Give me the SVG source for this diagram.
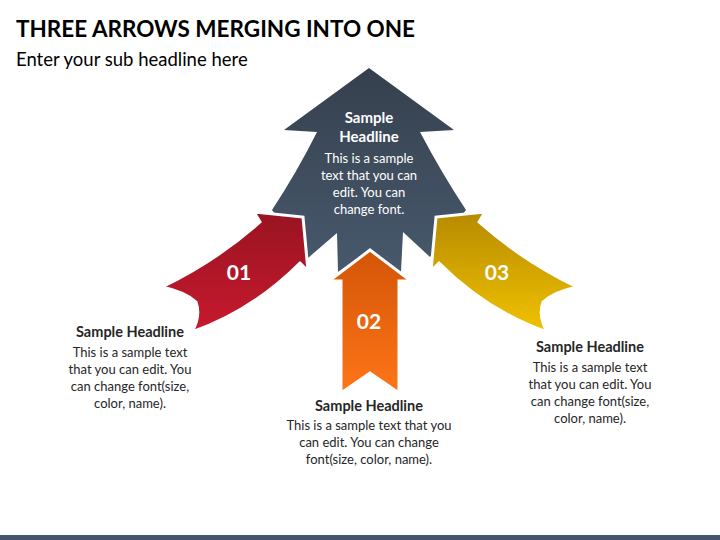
<svg xmlns="http://www.w3.org/2000/svg" width="720" height="540" viewBox="0 0 720 540">
  <defs>
    <linearGradient id="gDark" x1="0" y1="0" x2="0" y2="1">
      <stop offset="0" stop-color="#35404D"/>
      <stop offset="1" stop-color="#48596D"/>
    </linearGradient>
    <linearGradient id="gRed" x1="0" y1="0" x2="0" y2="1">
      <stop offset="0" stop-color="#981421"/>
      <stop offset="1" stop-color="#C8192E"/>
    </linearGradient>
    <linearGradient id="gOrange" x1="0" y1="0" x2="0" y2="1">
      <stop offset="0" stop-color="#D25507"/>
      <stop offset="1" stop-color="#FF7518"/>
    </linearGradient>
    <linearGradient id="gYellow" x1="0" y1="0" x2="0" y2="1">
      <stop offset="0" stop-color="#B68A00"/>
      <stop offset="1" stop-color="#F1C200"/>
    </linearGradient>
  </defs>
  <style>
    text { font-family: Lato, "Liberation Sans", sans-serif; }
    .title { font-size: 22.5px; font-weight: bold; fill: #000; }
    .sub { font-size: 18.5px; fill: #000; }
    .head { font-size: 14.5px; font-weight: bold; fill: #262626; text-anchor: middle; }
    .body { font-size: 13px; fill: #262626; text-anchor: middle; }
    .whead { font-size: 15px; font-weight: bold; fill: #fff; text-anchor: middle; }
    .wbody { font-size: 13px; fill: #fff; text-anchor: middle; }
    .num { font-size: 21px; font-weight: bold; fill: #fff; text-anchor: middle; }
    .edge { stroke: #fff; stroke-width: 3; stroke-linejoin: miter; }
  </style>

  <rect x="0" y="0" width="720" height="540" fill="#fff"/>

  <g id="header">
    <text class="title" x="16" y="37">THREE ARROWS MERGING INTO ONE</text>
    <text class="sub" x="16" y="66">Enter your sub headline here</text>
  </g>

  <g id="node-center">
    <path fill="url(#gDark)" d="M369,68 L454,130 L420,132 Q441,172 466,210 L430,257 L403,232 L401,272 L370,250 L338,272 L337,233 L308,258 L272,210 Q297,172 317,132 L284,130 Z"/>
    <text class="whead" x="369" y="123">Sample</text>
    <text class="whead" x="369" y="142">Headline</text>
    <text class="wbody" x="369" y="163">This is a sample</text>
    <text class="wbody" x="369" y="180">text that you can</text>
    <text class="wbody" x="369" y="197">edit. You can</text>
    <text class="wbody" x="369" y="214">change font.</text>
  </g>

  <g id="node-01">
    <path class="edge" fill="url(#gRed)" d="M254,212 L303,217 L308,271 L300,263 Q252,311 192,332 Q201,316 196,302 Q185,292 162,287 Q216,261 260,222 Z"/>
    <text class="num" x="239" y="280">01</text>
    <text class="head" x="130" y="337">Sample Headline</text>
    <text class="body" x="130" y="357">This is a sample text</text>
    <text class="body" x="130" y="374">that you can edit. You</text>
    <text class="body" x="130" y="391">can change font(size,</text>
    <text class="body" x="130" y="408">color, name).</text>
  </g>

  <g id="node-03">
    <path class="edge" fill="url(#gYellow)" d="M485,212 L436,217 L431,271 L439,263 Q487,311 547,332 Q538,316 543,302 Q554,292 577,287 Q523,261 479,222 Z"/>
    <text class="num" x="497" y="280">03</text>
    <text class="head" x="590" y="352">Sample Headline</text>
    <text class="body" x="590" y="372">This is a sample text</text>
    <text class="body" x="590" y="389">that you can edit. You</text>
    <text class="body" x="590" y="406">can change font(size,</text>
    <text class="body" x="590" y="423">color, name).</text>
  </g>

  <g id="node-02">
    <path class="edge" fill="url(#gOrange)" d="M370,250 L411,281 L399,281 L399,393 L370,373 L341,393 L341,281 L329,281 Z"/>
    <text class="num" x="369" y="329">02</text>
    <text class="head" x="369" y="411">Sample Headline</text>
    <text class="body" x="369" y="430">This is a sample text that you</text>
    <text class="body" x="369" y="447">can edit. You can change</text>
    <text class="body" x="369" y="464">font(size, color, name).</text>
  </g>

  <rect id="footer-bar" x="0" y="535" width="720" height="5" fill="#44546A"/>
</svg>
